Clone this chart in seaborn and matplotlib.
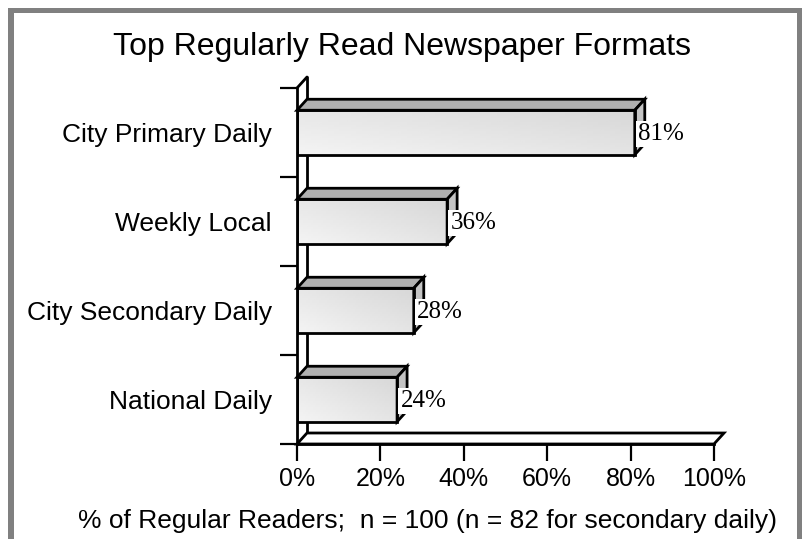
# grafico de formatos de periodico - barras con efecto 3D
import numpy as np
import pandas as pd
import matplotlib
matplotlib.use("Agg")
import matplotlib.pyplot as plt
import seaborn as sns
from matplotlib.patches import Polygon, Rectangle

# ========== DATOS ==========
categorias = ["City Primary Daily", "Weekly Local", "City Secondary Daily", "National Daily"]
valores = [81, 36, 28, 24]
ticks_x = [0, 20, 40, 60, 80, 100]
etiquetas_x = ["0%", "20%", "40%", "60%", "80%", "100%"]
titulo = "Top Regularly Read Newspaper Formats"
texto_eje = "% of Regular Readers;  n = 100 (n = 82 for secondary daily)"

# ========== ESTILO ==========
sns.set_theme(style="white")
plt.rcParams['font.family'] = ['Liberation Sans', 'DejaVu Sans']

W, H = 803, 539
fig = plt.figure(figsize=(W / 100, H / 100), dpi=100)
fig.patch.set_facecolor("white")

# area del grafico en pixeles: x 297..714, y 88..444
ax = fig.add_axes([297 / W, (H - 444) / H, 417 / W, 356 / H])
ax.set_facecolor("none")

df = pd.DataFrame({"formato": categorias, "pct": valores})
sns.barplot(data=df, x="pct", y="formato", orient="h", width=0.5,
            color="#e6e6e6", edgecolor="black", linewidth=2, ax=ax,
            saturation=1, zorder=4)

ax.set_xlim(0, 100)
ax.set_ylim(3.5, -0.5)

# profundidad 3D en unidades de datos
dx = 10 / 417 * 100
dy = 11 / 356 * 4

# pared izquierda y suelo
ax.plot([dx, dx], [-0.5 - dy, 3.5 - dy], color="black", lw=2, zorder=2, clip_on=False)
ax.plot([0, dx], [-0.5, -0.5 - dy], color="black", lw=2, zorder=2, clip_on=False)
suelo = Polygon([(0, 3.5), (100, 3.5), (100 + dx, 3.5 - dy), (dx, 3.5 - dy)],
                closed=True, facecolor="white", edgecolor="black", lw=2,
                zorder=2, clip_on=False, joinstyle="miter")
ax.add_patch(suelo)

# degradado de la cara frontal
nx, ny = 60, 20
gx, gy = np.meshgrid(np.linspace(0, 1, nx), np.linspace(0, 1, ny))
grad = 0.955 - 0.06 * gx - 0.05 * (1 - gy)

for barra, v in zip(ax.patches[:len(valores)], valores):
    x0, y0 = barra.get_x(), barra.get_y()
    w, h = barra.get_width(), barra.get_height()
    ytop, ybot = y0, y0 + h
    im = ax.imshow(grad, cmap="gray", vmin=0, vmax=1, aspect="auto",
                   extent=(x0, x0 + w, ybot, ytop), origin="upper",
                   interpolation="bilinear", zorder=3)
    im.set_clip_path(barra)
    barra.set_facecolor("none")
    barra.set_zorder(5)
    barra.set_joinstyle("miter")

    cara_sup = Polygon([(x0, ytop), (x0 + dx, ytop - dy), (x0 + w + dx, ytop - dy), (x0 + w, ytop)],
                       closed=True, facecolor="#b0b0b0", edgecolor="black", lw=2,
                       zorder=4, clip_on=False, joinstyle="miter")
    cara_lat = Polygon([(x0 + w, ytop), (x0 + w + dx, ytop - dy), (x0 + w + dx, ybot - dy), (x0 + w, ybot)],
                       closed=True, facecolor="#c4c4c4", edgecolor="black", lw=2,
                       zorder=4, clip_on=False, joinstyle="miter")
    ax.add_patch(cara_sup)
    ax.add_patch(cara_lat)

    ax.text(x0 + w + 0.8, y0 + h / 2 + 0.02, f"{v}%", ha="left", va="center",
            fontsize=18, family=["Liberation Serif", "DejaVu Serif"], color="black",
            bbox=dict(facecolor="white", edgecolor="none", pad=1.5), zorder=6)

# ejes y marcas
for lado in ["top", "right"]:
    ax.spines[lado].set_visible(False)
for lado in ["left", "bottom"]:
    ax.spines[lado].set_color("black")
    ax.spines[lado].set_linewidth(2)
    ax.spines[lado].set_zorder(6)

ax.set_xticks(ticks_x)
ax.set_xticklabels(etiquetas_x, fontsize=18)
ax.set_yticks([-0.5, 0.5, 1.5, 2.5, 3.5])
ax.set_yticklabels([])
ax.set_yticks(range(len(categorias)), categorias, minor=True)
ax.tick_params(axis="both", which="major", direction="out", length=12.2, width=1.6,
               color="black", bottom=True, left=True)
ax.tick_params(axis="x", pad=4, labelsize=18, labelcolor="black")
ax.tick_params(axis="y", which="minor", length=0, pad=18, labelsize=19, labelcolor="black")
ax.set_xlabel("")
ax.set_ylabel("")

# titulo y texto del eje
fig.text(402 / W, 1 - 55 / H, titulo, ha="center", va="baseline", fontsize=23, color="black")
fig.text(428 / W, 1 - 528 / H, texto_eje, ha="center", va="baseline", fontsize=19, color="black")

# marco gris
gris = "#808080"
fig.add_artist(Rectangle((8 / W, 0), 6 / W, 1 - 8 / H, transform=fig.transFigure, color=gris, lw=0))
fig.add_artist(Rectangle((8 / W, 1 - 13 / H), 1 - 8 / W, 5 / H, transform=fig.transFigure, color=gris, lw=0))
fig.add_artist(Rectangle((797 / W, 0), 6 / W, 1 - 8 / H, transform=fig.transFigure, color=gris, lw=0))

fig.savefig("out.png", dpi=100, facecolor="white")
